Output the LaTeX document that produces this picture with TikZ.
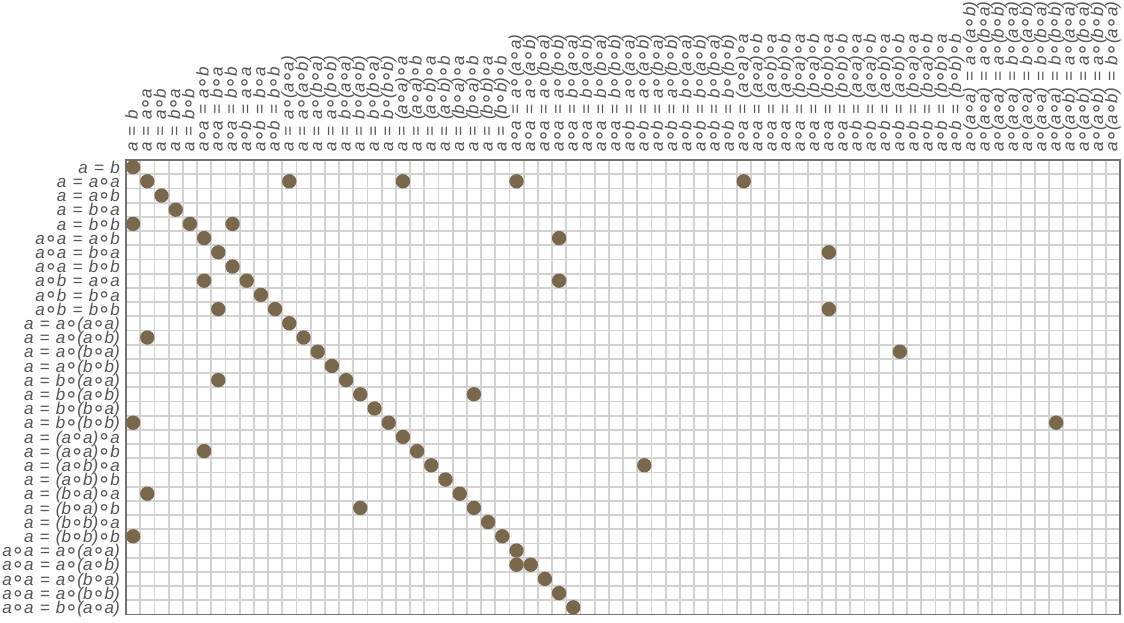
\documentclass[tikz,border=0pt]{standalone}
\usepackage{fontspec}
\setmainfont{Liberation Sans}
\newfontfamily\opfont{DejaVu Sans}
\definecolor{txtc}{RGB}{84,84,84}
\definecolor{gridc}{RGB}{210,210,210}
\definecolor{framec}{RGB}{115,115,115}
\definecolor{dotc}{RGB}{122,104,77}
\newcommand\rop{\makebox[0.71em]{\raisebox{-0.05em}{\opfont\upshape\fontsize{21}{21}\selectfont ∘}}}
\newcommand\eqs{\hspace{0.37em}=\hspace{0.37em}}
\def\eqlist{%
{a\eqs b},{a\eqs a\rop a},{a\eqs a\rop b},{a\eqs b\rop a},{a\eqs b\rop b},%
{a\rop a\eqs a\rop b},{a\rop a\eqs b\rop a},{a\rop a\eqs b\rop b},%
{a\rop b\eqs a\rop a},{a\rop b\eqs b\rop a},{a\rop b\eqs b\rop b},%
{a\eqs a\rop(a\rop a)},{a\eqs a\rop(a\rop b)},{a\eqs a\rop(b\rop a)},{a\eqs a\rop(b\rop b)},%
{a\eqs b\rop(a\rop a)},{a\eqs b\rop(a\rop b)},{a\eqs b\rop(b\rop a)},{a\eqs b\rop(b\rop b)},%
{a\eqs (a\rop a)\rop a},{a\eqs (a\rop a)\rop b},{a\eqs (a\rop b)\rop a},{a\eqs (a\rop b)\rop b},%
{a\eqs (b\rop a)\rop a},{a\eqs (b\rop a)\rop b},{a\eqs (b\rop b)\rop a},{a\eqs (b\rop b)\rop b},%
{a\rop a\eqs a\rop(a\rop a)},{a\rop a\eqs a\rop(a\rop b)},{a\rop a\eqs a\rop(b\rop a)},{a\rop a\eqs a\rop(b\rop b)},%
{a\rop a\eqs b\rop(a\rop a)},{a\rop a\eqs b\rop(a\rop b)},{a\rop a\eqs b\rop(b\rop a)},{a\rop a\eqs b\rop(b\rop b)},%
{a\rop b\eqs a\rop(a\rop a)},{a\rop b\eqs a\rop(a\rop b)},{a\rop b\eqs a\rop(b\rop a)},{a\rop b\eqs a\rop(b\rop b)},%
{a\rop b\eqs b\rop(a\rop a)},{a\rop b\eqs b\rop(a\rop b)},{a\rop b\eqs b\rop(b\rop a)},{a\rop b\eqs b\rop(b\rop b)},%
{a\rop a\eqs (a\rop a)\rop a},{a\rop a\eqs (a\rop a)\rop b},{a\rop a\eqs (a\rop b)\rop a},{a\rop a\eqs (a\rop b)\rop b},%
{a\rop a\eqs (b\rop a)\rop a},{a\rop a\eqs (b\rop a)\rop b},{a\rop a\eqs (b\rop b)\rop a},{a\rop a\eqs (b\rop b)\rop b},%
{a\rop b\eqs (a\rop a)\rop a},{a\rop b\eqs (a\rop a)\rop b},{a\rop b\eqs (a\rop b)\rop a},{a\rop b\eqs (a\rop b)\rop b},%
{a\rop b\eqs (b\rop a)\rop a},{a\rop b\eqs (b\rop a)\rop b},{a\rop b\eqs (b\rop b)\rop a},{a\rop b\eqs (b\rop b)\rop b},%
{a\rop(a\rop a)\eqs a\rop(a\rop b)},{a\rop(a\rop a)\eqs a\rop(b\rop a)},{a\rop(a\rop a)\eqs a\rop(b\rop b)},%
{a\rop(a\rop a)\eqs b\rop(a\rop a)},{a\rop(a\rop a)\eqs b\rop(a\rop b)},{a\rop(a\rop a)\eqs b\rop(b\rop a)},%
{a\rop(a\rop a)\eqs b\rop(b\rop b)},%
{a\rop(a\rop b)\eqs a\rop(a\rop a)},{a\rop(a\rop b)\eqs a\rop(b\rop a)},{a\rop(a\rop b)\eqs a\rop(b\rop b)},%
{a\rop(a\rop b)\eqs b\rop(a\rop a)}}
\begin{document}
\begin{tikzpicture}[x=1pt,y=1pt,
  lab/.style={text=txtc,inner sep=0pt,font=\itshape\fontsize{17}{17}\selectfont},
  rowlab/.style={lab,anchor=base east},
  collab/.style={lab,anchor=base west,rotate=90},
  gridline/.style={gridc,line width=1.8pt},
  dot/.style={circle,fill=dotc,minimum size=14.4pt,inner sep=0pt}]
\fill[white] (0,0) rectangle (1124,-622);
\useasboundingbox (0,0) rectangle (1124,-622);
% grid
\foreach \k in {1,...,69}
  \draw[gridline] ({126+\k*14.2},-160) -- ({126+\k*14.2},-614.4);
\foreach \k in {1,...,31}
  \draw[gridline] (126,{-160-\k*14.2}) -- (1120,{-160-\k*14.2});
\draw[framec,line width=1.4pt] (126,-160) rectangle (1120,-614.4);
% labels
\foreach \t [count=\i] in \eqlist {
  \node[collab] (c\i) at ({126+(\i-0.5)*14.2+4.4},-152) {\t};
  \ifnum\i<33
    \node[rowlab] (r\i) at (120,{-160-(\i-0.5)*14.2-6.2}) {\t};
  \fi
}
% dots
\foreach \r/\c in {1/1,2/2,2/12,2/20,2/28,2/44,3/3,4/4,5/1,5/5,5/8,6/6,6/31,7/7,7/50,8/8,
  9/6,9/9,9/31,10/10,11/7,11/11,11/50,12/12,13/2,13/13,14/14,14/55,15/15,16/7,16/16,
  17/17,17/25,18/18,19/1,19/19,19/66,20/20,21/6,21/21,22/22,22/37,23/23,24/2,24/24,
  25/17,25/25,26/26,27/1,27/27,28/28,29/28,29/29,30/30,31/31,32/32}
  \node[dot] (d\r-\c) at ({126+(\c-0.5)*14.2},{-160-(\r-0.5)*14.2}) {};
\end{tikzpicture}
\end{document}
